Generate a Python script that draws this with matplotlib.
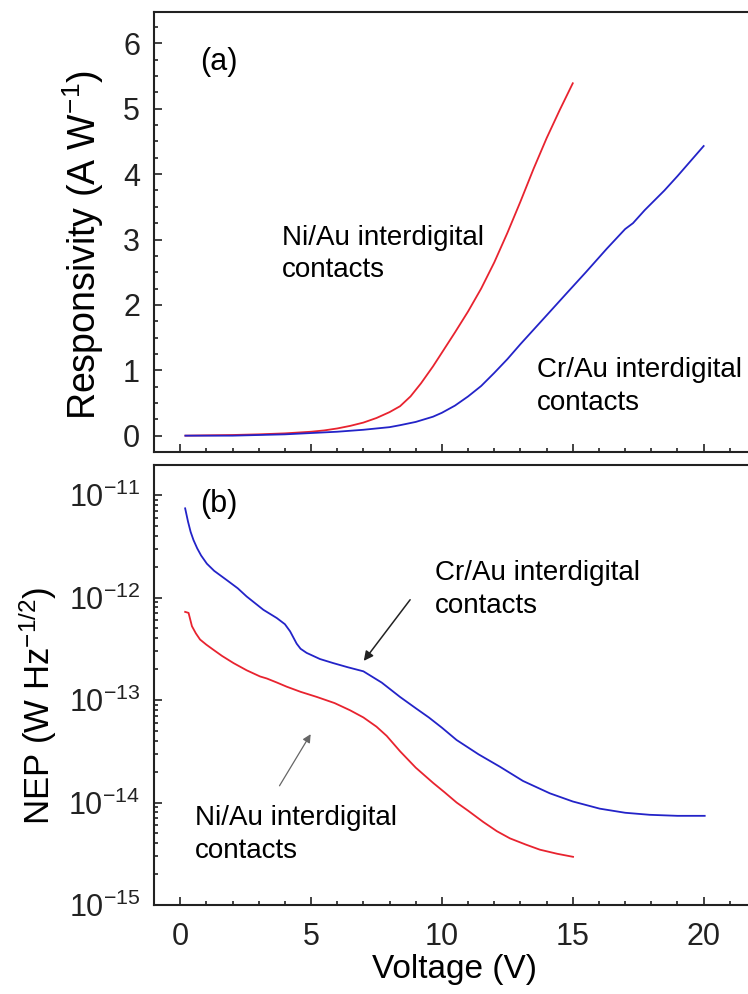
"""Responsivity and NEP vs voltage for Ni/Au and Cr/Au interdigital contacts."""
import matplotlib
matplotlib.use("Agg")
import matplotlib.pyplot as plt
import numpy as np
from matplotlib.ticker import MultipleLocator, LogLocator, NullFormatter

plt.rcParams["font.family"] = ["Liberation Sans", "DejaVu Sans"]
plt.rcParams["mathtext.fontset"] = "custom"
plt.rcParams["mathtext.rm"] = "Liberation Sans"
plt.rcParams["mathtext.default"] = "regular"

RED = "#e8232f"
BLUE = "#2323c8"

# (a) responsivity, A/W
v_ni_r = [0.2, 1, 2, 3, 4, 5, 5.5, 6, 6.5, 7, 7.5, 8, 8.4, 8.8, 9.2, 9.66, 10, 10.5, 11, 11.5, 12,
          12.5, 13, 13.5, 14, 14.5, 15]
r_ni = [0.0, 0.005, 0.01, 0.02, 0.035, 0.06, 0.08, 0.11, 0.15, 0.2, 0.27, 0.36, 0.45, 0.6, 0.8, 1.06,
        1.27, 1.58, 1.9, 2.25, 2.65, 3.1, 3.58, 4.08, 4.55, 4.98, 5.39]
v_cr_r = [0.2, 2, 4, 6, 7, 8, 8.4, 9, 9.66, 10, 10.5, 11, 11.5, 12, 12.5, 13, 13.5, 14, 14.77, 15.5,
          16.3, 17, 17.3, 17.75, 18.5, 19, 19.5, 20]
r_cr = [0.0, 0.0, 0.02, 0.06, 0.09, 0.13, 0.16, 0.21, 0.29, 0.35, 0.46, 0.6, 0.76, 0.96, 1.17, 1.4,
        1.62, 1.84, 2.18, 2.5, 2.86, 3.16, 3.25, 3.45, 3.75, 3.97, 4.2, 4.43]

# (b) NEP, log10(W Hz^-1/2)
v_cr_n = [0.19, 0.3, 0.4, 0.51, 0.65, 0.8, 1.02, 1.3, 1.78, 2.2, 2.54, 3.18, 3.69, 4.0, 4.2, 4.45,
          4.6, 4.83, 5.34, 5.85, 6.4, 7.0, 7.7, 8.4, 9.0, 9.5, 10.0, 10.56, 11.4, 12.21, 13.1, 14.12,
          15.0, 16.03, 17.0, 17.94, 19.0, 20.04]
lognep_cr = [-11.13, -11.26, -11.36, -11.44, -11.52, -11.59, -11.67, -11.74, -11.83, -11.91, -11.99,
             -12.12, -12.2, -12.26, -12.33, -12.45, -12.5, -12.54, -12.6, -12.64, -12.68, -12.72,
             -12.83, -12.97, -13.08, -13.17, -13.27, -13.39, -13.53, -13.65, -13.79, -13.91, -13.99,
             -14.06, -14.1, -14.12, -14.13, -14.13]
v_ni_n = [0.19, 0.32, 0.45, 0.6, 0.76, 1.0, 1.27, 1.6, 2.04, 2.54, 3.05, 3.31, 3.7, 4.07, 4.6, 5.22,
          5.9, 6.49, 7.0, 7.5, 7.89, 8.4, 9.0, 9.67, 10.1, 10.56, 11.0, 11.58, 12.1, 12.6, 13.2, 13.74,
          14.4, 15.01]
lognep_ni = [-12.14, -12.15, -12.28, -12.35, -12.41, -12.46, -12.51, -12.57, -12.64, -12.71, -12.77,
             -12.79, -12.83, -12.87, -12.92, -12.97, -13.03, -13.10, -13.17, -13.26, -13.35, -13.5,
             -13.66, -13.81, -13.9, -14.0, -14.08, -14.19, -14.28, -14.35, -14.41, -14.46, -14.5,
             -14.53]

W, H = 748, 994
fig = plt.figure(figsize=(W / 100, H / 100), dpi=100)
left = 154 / W
width = (756 - 154) / W
ax1 = fig.add_axes([left, 1 - 452 / H, width, 440 / H])
ax2 = fig.add_axes([left, 1 - 905 / H, width, 440 / H])

for ax in (ax1, ax2):
    for s in ax.spines.values():
        s.set_linewidth(1.5)
        s.set_color("#222222")
    ax.tick_params(which="both", direction="in", width=1.2, colors="#222222", labelsize=22)
    ax.tick_params(which="major", length=6)
    ax.tick_params(which="minor", length=3)
    ax.tick_params(axis="y", pad=10)
    ax.tick_params(axis="x", pad=12)
    ax.set_xlim(-1, 22)
    ax.xaxis.set_major_locator(MultipleLocator(5))
    ax.xaxis.set_minor_locator(MultipleLocator(1))

# (a)
ax1.plot(v_ni_r, r_ni, color=RED, lw=1.3)
ax1.plot(v_cr_r, r_cr, color=BLUE, lw=1.3)
ax1.set_ylim(-0.25, 6.48)
ax1.yaxis.set_major_locator(MultipleLocator(1))
ax1.yaxis.set_minor_locator(MultipleLocator(0.25))
ax1.tick_params(axis="x", labelbottom=False)
ax1.set_ylabel("Responsivity (A W$^{-1}$)", fontsize=27)
ax1.yaxis.set_label_coords(-0.08, 0.47)
ax1.text(0.76, 5.6, "(a)", fontsize=22, va="baseline")
ax1.text(3.9, 2.92, "Ni/Au interdigital", fontsize=20, va="baseline")
ax1.text(3.9, 2.43, "contacts", fontsize=20, va="baseline")
ax1.text(13.63, 0.9, "Cr/Au interdigital", fontsize=20, va="baseline")
ax1.text(13.63, 0.39, "contacts", fontsize=20, va="baseline")

# (b)
ax2.plot(v_cr_n, 10 ** np.array(lognep_cr), color=BLUE, lw=1.3)
ax2.plot(v_ni_n, 10 ** np.array(lognep_ni), color=RED, lw=1.3)
ax2.set_yscale("log")
ax2.set_ylim(1e-15, 10 ** -10.707)
ax2.yaxis.set_major_locator(LogLocator(base=10, numticks=20))
ax2.yaxis.set_minor_locator(LogLocator(base=10, subs=np.arange(2, 10), numticks=20))
ax2.yaxis.set_minor_formatter(NullFormatter())
ax2.set_ylabel("NEP (W Hz$^{-1/2}$)", fontsize=25)
ax2.yaxis.set_label_coords(-0.158, 0.452)
ax2.set_xlabel("Voltage (V)", fontsize=24, labelpad=2)
ax2.text(0.76, 10 ** -11.17, "(b)", fontsize=22, va="baseline")
ax2.text(9.73, 10 ** -11.83, "Cr/Au interdigital", fontsize=20, va="baseline")
ax2.text(9.73, 10 ** -12.15, "contacts", fontsize=20, va="baseline")
ax2.text(0.57, 10 ** -14.22, "Ni/Au interdigital", fontsize=20, va="baseline")
ax2.text(0.57, 10 ** -14.54, "contacts", fontsize=20, va="baseline")
ax2.annotate("", xy=(6.95, 10 ** -12.64), xytext=(8.85, 10 ** -12.0),
             arrowprops=dict(arrowstyle="-|>", color="#222222", lw=1.1, mutation_scale=14))
ax2.annotate("", xy=(5.04, 10 ** -13.31), xytext=(3.74, 10 ** -13.86),
             arrowprops=dict(arrowstyle="-|>", color="#666666", lw=0.9, mutation_scale=12))

fig.savefig("out.png", dpi=100)
